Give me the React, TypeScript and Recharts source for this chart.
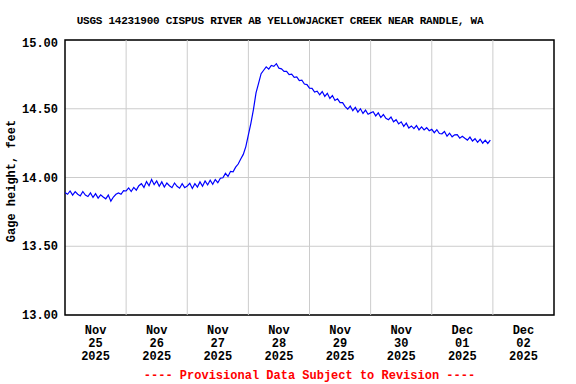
import React from 'react';
import { LineChart, Line, XAxis, YAxis, CartesianGrid, ReferenceLine, ReferenceArea } from 'recharts';

const title = 'USGS 14231900 CISPUS RIVER AB YELLOWJACKET CREEK NEAR RANDLE, WA';
const yLabel = 'Gage height, feet';
const footer = '---- Provisional Data Subject to Revision ----';

const tickMonths = ['Nov', 'Nov', 'Nov', 'Nov', 'Nov', 'Nov', 'Dec', 'Dec'];
const tickDays = ['25', '26', '27', '28', '29', '30', '01', '02'];
const tickYears = ['2025', '2025', '2025', '2025', '2025', '2025', '2025', '2025'];
const tickPositions = [0.5, 1.5, 2.5, 3.5, 4.5, 5.5, 6.5, 7.5];
const dayGrid = [1, 2, 3, 4, 5, 6, 7];
const yTicks = [13, 13.5, 14, 14.5, 15];

// hourly gage height, feet (hour 0 = Nov 25 00:00)
const nov25 = [13.890, 13.878, 13.902, 13.872, 13.897, 13.878, 13.866, 13.898, 13.872, 13.862, 13.888, 13.855, 13.882, 13.850, 13.874, 13.858, 13.845, 13.872, 13.828, 13.858, 13.878, 13.888, 13.878, 13.904];
const nov26 = [13.902, 13.924, 13.898, 13.928, 13.908, 13.940, 13.955, 13.928, 13.970, 13.940, 13.985, 13.948, 13.975, 13.936, 13.968, 13.930, 13.960, 13.940, 13.926, 13.960, 13.936, 13.922, 13.955, 13.926];
const nov27 = [13.938, 13.958, 13.920, 13.955, 13.930, 13.968, 13.936, 13.975, 13.946, 13.980, 13.950, 13.985, 13.962, 13.995, 13.998, 14.030, 14.008, 14.045, 14.042, 14.075, 14.098, 14.135, 14.168, 14.225];
const nov28 = [14.310, 14.395, 14.495, 14.615, 14.685, 14.755, 14.780, 14.805, 14.788, 14.815, 14.808, 14.828, 14.795, 14.790, 14.772, 14.772, 14.748, 14.752, 14.728, 14.732, 14.705, 14.708, 14.680, 14.676];
const nov29 = [14.650, 14.648, 14.622, 14.628, 14.602, 14.625, 14.590, 14.612, 14.575, 14.596, 14.560, 14.572, 14.545, 14.545, 14.515, 14.498, 14.520, 14.486, 14.510, 14.476, 14.500, 14.466, 14.490, 14.460];
const nov30 = [14.470, 14.478, 14.448, 14.470, 14.436, 14.458, 14.430, 14.420, 14.440, 14.405, 14.420, 14.390, 14.405, 14.372, 14.395, 14.360, 14.375, 14.356, 14.378, 14.346, 14.368, 14.346, 14.362, 14.340];
const dec01 = [14.350, 14.326, 14.348, 14.320, 14.318, 14.335, 14.300, 14.322, 14.296, 14.310, 14.312, 14.286, 14.300, 14.285, 14.272, 14.294, 14.265, 14.282, 14.256, 14.278, 14.250, 14.272, 14.248, 14.272];

const gage = [...nov25, ...nov26, ...nov27, ...nov28, ...nov29, ...nov30, ...dec01];
const data = gage.map((v, i) => ({ t: i / 24, v }));

const FONT = '"Liberation Mono", "DejaVu Sans Mono", monospace';

const XTick = (props: any) => {
  const { x, y, payload } = props;
  const idx = tickPositions.indexOf(payload.value);
  if (idx < 0) return null;
  return (
    <text x={x} y={y} textAnchor="middle" fontFamily={FONT} fontWeight="bold" fontSize={12} fill="#000">
      <tspan x={x} dy={19}>{tickMonths[idx]}</tspan>
      <tspan x={x} dy={12.8}>{tickDays[idx]}</tspan>
      <tspan x={x} dy={12.8}>{tickYears[idx]}</tspan>
    </text>
  );
};

const YTick = (props: any) => {
  const { x, y, payload } = props;
  const shift = payload.value === 15 ? 3 : 0;
  return (
    <text x={x} y={y + shift + 4} textAnchor="end" fontFamily={FONT} fontWeight="bold" fontSize={12} fill="#000">
      {payload.value.toFixed(2)}
    </text>
  );
};

export default function App() {
  return (
    <div style={{ position: 'absolute', left: 0, top: 0, width: 576, height: 384, background: '#fff' }}>
      <LineChart width={576} height={384} data={data} margin={{ top: 40, right: 22, bottom: 9, left: 0 }}>
        <CartesianGrid vertical={false} stroke="#cccccc" strokeWidth={1} />
        {dayGrid.map((d) => (
          <ReferenceLine key={d} x={d} stroke="#cccccc" strokeWidth={1} />
        ))}
        <XAxis
          type="number"
          dataKey="t"
          domain={[0, 8]}
          ticks={tickPositions}
          interval={0}
          tick={<XTick />}
          tickLine={false}
          axisLine={false}
          tickSize={0}
          tickMargin={0}
          height={60}
          allowDataOverflow
        />
        <YAxis
          type="number"
          domain={[13, 15]}
          ticks={yTicks}
          interval={0}
          tick={<YTick />}
          tickLine={false}
          axisLine={false}
          tickSize={0}
          tickMargin={7}
          width={65}
          allowDataOverflow
        />
        <Line type="linear" dataKey="v" stroke="#0000ff" strokeWidth={1.2} dot={false} isAnimationActive={false} />
        <ReferenceArea x1={0} x2={8} y1={13} y2={15} fill="none" fillOpacity={0} stroke="#000" strokeWidth={1.5} strokeOpacity={1} />
      </LineChart>
      <svg width={576} height={384} style={{ position: 'absolute', left: 0, top: 0, pointerEvents: 'none' }}>
        <text x={280} y={24} textAnchor="middle" fontFamily={FONT} fontWeight="bold" fontSize={11} letterSpacing={-0.25} fill="#000">{title}</text>
        <text x={12} y={181} transform="rotate(-90, 12, 181)" textAnchor="middle" dominantBaseline="central" fontFamily={FONT} fontWeight="bold" fontSize={12} fill="#000">{yLabel}</text>
        <text x={309.5} y={379} textAnchor="middle" fontFamily={FONT} fontWeight="bold" fontSize={12} fill="#ff0000">{footer}</text>
      </svg>
    </div>
  );
}
